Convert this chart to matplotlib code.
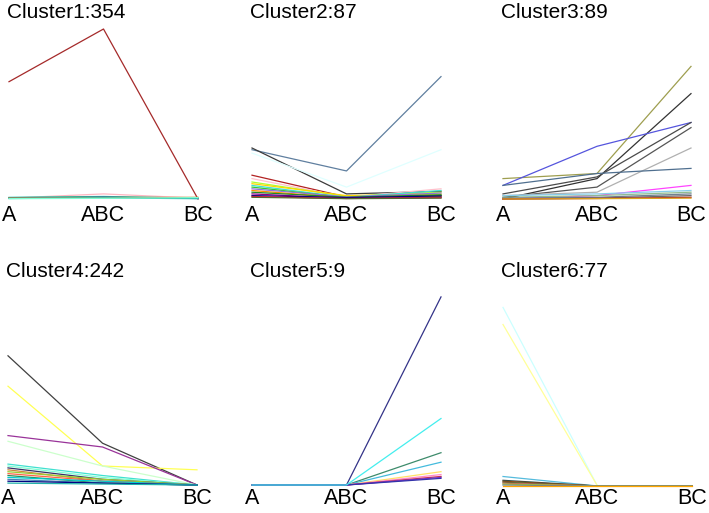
import matplotlib
matplotlib.use("Agg")
import matplotlib.pyplot as plt

plt.rcParams['font.family'] = ['Liberation Sans', 'DejaVu Sans']

conditions = ["A", "ABC", "BC"]
titles = ["Cluster1:354", "Cluster2:87", "Cluster3:89",
          "Cluster4:242", "Cluster5:9", "Cluster6:77"]

# profile values (relative units) per cluster, each row = one gene [A, ABC, BC]
c1_values = [
    [0.69, 1.00, 0.00],
    [0.005, 0.030, 0.005],
    [0.010, 0.015, 0.004],
    [0.008, 0.012, 0.006],
    [0.004, 0.010, 0.003],
    [0.006, 0.008, 0.010],
    [0.003, 0.006, 0.002],
    [0.002, 0.004, 0.008],
]
c1_colors = ["#a52a2a", "#ffb6c1", "#48d1cc", "#2e8b57", "#4169e1", "#cd853f",
             "#20b2aa", "#7fffd4"]

c2_values = [
    [0.29, 0.165, 0.72],
    [0.30, 0.030, 0.045],
    [0.27, 0.070, 0.29],
    [0.14, 0.012, 0.020],
    [0.12, 0.010, 0.060],
    [0.10, 0.015, 0.040],
    [0.09, 0.020, 0.030],
    [0.08, 0.010, 0.050],
    [0.07, 0.008, 0.020],
    [0.06, 0.012, 0.035],
    [0.05, 0.006, 0.015],
    [0.04, 0.010, 0.025],
    [0.03, 0.004, 0.010],
    [0.02, 0.008, 0.018],
    [0.015, 0.003, 0.008],
    [0.01, 0.002, 0.005],
]
c2_colors = ["#5f7f9f", "#3c3c3c", "#e0ffff", "#b22222", "#ffc0cb", "#adff2f",
             "#ffd700", "#40e0d0", "#32cd32", "#9370db", "#ff8c00", "#228b22",
             "#8b008b", "#000080", "#dc143c", "#556b2f"]

c3_values = [
    [0.12, 0.15, 0.78],
    [0.00, 0.12, 0.62],
    [0.08, 0.31, 0.45],
    [0.03, 0.13, 0.45],
    [0.01, 0.07, 0.42],
    [0.02, 0.04, 0.30],
    [0.08, 0.15, 0.18],
    [0.00, 0.02, 0.08],
    [0.02, 0.03, 0.05],
    [0.01, 0.02, 0.04],
    [0.005, 0.01, 0.03],
    [0.00, 0.005, 0.02],
    [0.00, 0.003, 0.01],
    [0.00, 0.002, 0.005],
]
c3_colors = ["#9e9e4f", "#333333", "#5555dd", "#4a4a4a", "#555555", "#b0b0b0",
             "#4f6f8f", "#ff44ff", "#87ceeb", "#8fbc8f", "#708090", "#696969",
             "#b22222", "#daa520"]

c4_values = [
    [0.68, 0.22, 0.00],
    [0.52, 0.10, 0.08],
    [0.26, 0.20, 0.00],
    [0.23, 0.10, 0.00],
    [0.11, 0.05, 0.00],
    [0.10, 0.04, 0.00],
    [0.09, 0.03, 0.00],
    [0.08, 0.02, 0.00],
    [0.07, 0.03, 0.00],
    [0.06, 0.02, 0.00],
    [0.05, 0.01, 0.00],
    [0.04, 0.02, 0.00],
    [0.03, 0.01, 0.00],
    [0.02, 0.01, 0.00],
    [0.01, 0.005, 0.00],
]
c4_colors = ["#404040", "#ffff55", "#993399", "#ccffcc", "#40e0d0", "#7fffd4",
             "#333366", "#cd853f", "#9acd32", "#ff6347", "#2e8b57", "#00ced1",
             "#4682b4", "#000080", "#20b2aa"]

c5_values = [
    [0.00, 0.00, 0.99],
    [0.00, 0.00, 0.17],
    [0.00, 0.00, 0.12],
    [0.00, 0.00, 0.07],
    [0.00, 0.00, 0.055],
    [0.00, 0.00, 0.045],
    [0.00, 0.00, 0.04],
    [0.00, 0.00, 0.035],
    [0.00, 0.00, 0.35],
]
c5_colors = ["#333388", "#3d8b6b", "#44bbdd", "#ffe066", "#ff88cc",
             "#cc3344", "#7733cc", "#3333aa", "#44eeee"]

c6_values = [
    [0.94, 0.00, 0.00],
    [0.85, 0.00, 0.00],
    [0.05, 0.00, 0.00],
    [0.03, 0.00, 0.00],
    [0.025, 0.00, 0.00],
    [0.02, 0.00, 0.00],
    [0.015, 0.00, 0.00],
    [0.01, 0.00, 0.00],
    [0.005, 0.00, 0.00],
    [0.00, 0.00, 0.00],
]
c6_colors = ["#ccffff", "#ffff99", "#55bbdd", "#2f4f4f", "#8b4513", "#556b2f",
             "#cd5c5c", "#9acd32", "#708090", "#ffa500"]

all_values = [c1_values, c2_values, c3_values, c4_values, c5_values, c6_values]
all_colors = [c1_colors, c2_colors, c3_colors, c4_colors, c5_colors, c6_colors]

W, H = 709, 513
fig = plt.figure(figsize=(W / 100, H / 100), dpi=100)

# axes boxes in pixels: (left, right, bottom_from_top, top_from_top)
boxes = [
    (9, 198, 199, 29), (252, 441, 199, 29), (503, 691, 199, 29),
    (8, 197, 485, 295), (252, 441, 485, 295), (503, 692, 486, 296),
]

x = list(range(len(conditions)))
for i, (l, r, b, t) in enumerate(boxes):
    ax = fig.add_axes([l / W, 1 - b / H, (r - l) / W, (b - t) / H])
    for vals, col in zip(all_values[i], all_colors[i]):
        ax.plot(x, vals, color=col, lw=0.9, clip_on=False)
    ax.set_xlim(0, 2)
    ax.set_ylim(0, 1)
    for s in ax.spines.values():
        s.set_visible(False)
    ax.set_yticks([])
    ax.set_xticks(x)
    ax.set_xticklabels(conditions, fontsize=15.5)
    ax.tick_params(axis='x', length=0, pad=4.3 if i < 3 else 1.8)
    top_px = 3 if i < 3 else 262
    fig.text((l - 2) / W, 1 - top_px / H, titles[i], fontsize=15,
             ha='left', va='top')

fig.savefig("out.png", dpi=100)
